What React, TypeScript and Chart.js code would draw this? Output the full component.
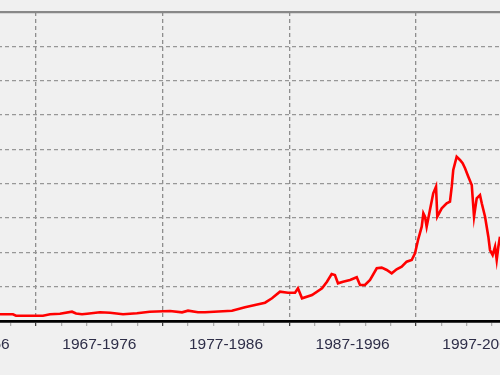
import React, { useEffect, useRef } from 'react';
import { Chart, registerables } from 'chart.js';

Chart.register(...registerables);

// Series (year, index level in grid units)
const years = [
  1964.16, 1965.18, 1965.42, 1967.55, 1968.11, 1968.89, 1969.84, 1970.16, 1970.63, 1971.03,
  1972.05, 1972.84, 1973.87, 1974.97, 1975.98, 1977.58, 1978.53, 1979.0, 1979.79, 1980.34,
  1982.47, 1983.5, 1984.29, 1985.08, 1985.63, 1986.26, 1986.89, 1987.45, 1987.68, 1988.0,
  1988.79, 1989.58, 1989.97, 1990.34, 1990.6, 1990.84, 1991.24, 1991.79, 1992.32, 1992.58,
  1992.97, 1993.37, 1993.9, 1994.29, 1994.69, 1995.08, 1995.47, 1995.87, 1996.26, 1996.66,
  1996.92, 1997.16, 1997.45, 1997.58, 1997.71, 1997.84, 1998.1, 1998.36, 1998.58, 1998.68,
  1999.03, 1999.42, 1999.68, 1999.82, 1999.94, 2000.21, 2000.47, 2000.68, 2000.87, 2001.13,
  2001.4, 2001.58, 2001.79, 2002.05, 2002.19, 2002.45, 2002.71, 2002.84, 2003.05, 2003.24,
  2003.37, 2003.5, 2003.63,
];
const values = [
  0.195, 0.195, 0.154, 0.154, 0.195, 0.213, 0.271, 0.218, 0.195, 0.213,
  0.253, 0.242, 0.195, 0.224, 0.271, 0.291, 0.253, 0.3, 0.253, 0.253,
  0.3, 0.399, 0.466, 0.533, 0.661, 0.853, 0.824, 0.824, 0.953, 0.661,
  0.757, 0.953, 1.145, 1.369, 1.34, 1.098, 1.145, 1.194, 1.273, 1.049,
  1.049, 1.194, 1.535, 1.553, 1.486, 1.389, 1.506, 1.582, 1.727, 1.777,
  1.972, 2.359, 2.747, 3.137, 3.038, 2.747, 3.233, 3.72, 3.912, 3.038,
  3.283, 3.428, 3.475, 3.912, 4.399, 4.786, 4.69, 4.594, 4.448, 4.203,
  3.962, 3.038, 3.574, 3.67, 3.428, 3.038, 2.456, 2.068, 1.923, 2.164,
  1.777, 2.164, 2.456,
];

// Axis labels (each centred on its decade)
const labelCenters = [1962, 1972, 1982, 1992, 2002];
const labelTexts = ['1957-1966', '1967-1976', '1977-1986', '1987-1996', '1997-2006'];
const decadeLines = [1957, 1967, 1977, 1987, 1997, 2007];
const tickYears = Array.from({ length: 2007 - 1957 + 1 }, (_, i) => 1957 + i);
const yTicks = [0, 1, 2, 3, 4, 5, 6, 7, 8, 9];

const X_MIN = 1956.263;
const X_MAX = 2008.367;
const CROP_LEFT = 100;
const CANVAS_W = 660;

export default function App() {
  const ref = useRef<HTMLCanvasElement | null>(null);

  useEffect(() => {
    document.body.style.margin = '0';
    const canvas = ref.current;
    if (!canvas) return;
    const chart = new Chart(canvas, {
      type: 'line',
      data: {
        datasets: [
          {
            data: years.map((x, i) => ({ x, y: values[i] })),
            borderColor: '#ff0000',
            borderWidth: 2.6,
            pointRadius: 0,
            tension: 0,
            fill: false,
          },
        ],
      },
      options: {
        animation: false,
        responsive: false,
        maintainAspectRatio: false,
        layout: { padding: { top: 12, bottom: 12.4, left: 0, right: 0 } },
        plugins: { legend: { display: false }, tooltip: { enabled: false }, title: { display: false } },
        scales: {
          x: {
            type: 'linear',
            min: X_MIN,
            max: X_MAX,
            afterBuildTicks: (scale: any) => {
              scale.ticks = tickYears.map((v) => ({ value: v }));
            },
            ticks: {
              autoSkip: false,
              maxRotation: 0,
              minRotation: 0,
              padding: 9,
              color: '#2e2e48',
              font: { family: "'Liberation Sans', Arial, sans-serif", size: 15.5 },
              callback: (v: any) => {
                const idx = labelCenters.indexOf(Number(v));
                return idx >= 0 ? labelTexts[idx] : '';
              },
            },
            grid: {
              drawOnChartArea: true,
              drawTicks: true,
              tickLength: 5,
              lineWidth: 1.3,
              color: (ctx: any) =>
                ctx.tick && decadeLines.includes(ctx.tick.value) ? '#8e8e8e' : 'transparent',
              tickColor: (ctx: any) => {
                const v = ctx.tick ? ctx.tick.value : NaN;
                if (decadeLines.includes(v)) return '#333333';
                if (Math.abs(v % 2) === 1) return '#a8a8a8';
                return 'transparent';
              },
              tickWidth: 1.2,
              tickBorderDash: [],
            },
            border: { display: true, color: '#000000', width: 2.7, dash: [4, 3] },
          },
          y: {
            type: 'linear',
            min: 0,
            max: 9,
            afterBuildTicks: (scale: any) => {
              scale.ticks = yTicks.map((v) => ({ value: v }));
            },
            ticks: { display: false },
            grid: {
              drawTicks: false,
              color: (ctx: any) => {
                const v = ctx.tick ? ctx.tick.value : -1;
                if (v === 0) return 'transparent';
                if (v === 9) return '#888888';
                return '#979797';
              },
              lineWidth: (ctx: any) => (ctx.tick && ctx.tick.value === 9 ? 2.2 : 1.3),
            },
            border: {
              display: false,
              dash: (ctx: any) => (ctx.tick && ctx.tick.value === 9 ? [] : [4, 3]),
            },
          },
        },
      } as any,
    });
    return () => chart.destroy();
  }, []);

  return (
    <div
      style={{
        position: 'relative',
        width: 500,
        height: 375,
        overflow: 'hidden',
        background: '#f0f0f0',
      }}
    >
      <canvas
        ref={ref}
        width={CANVAS_W}
        height={375}
        style={{ position: 'absolute', left: -CROP_LEFT, top: 0, width: CANVAS_W, height: 375 }}
      />
    </div>
  );
}
